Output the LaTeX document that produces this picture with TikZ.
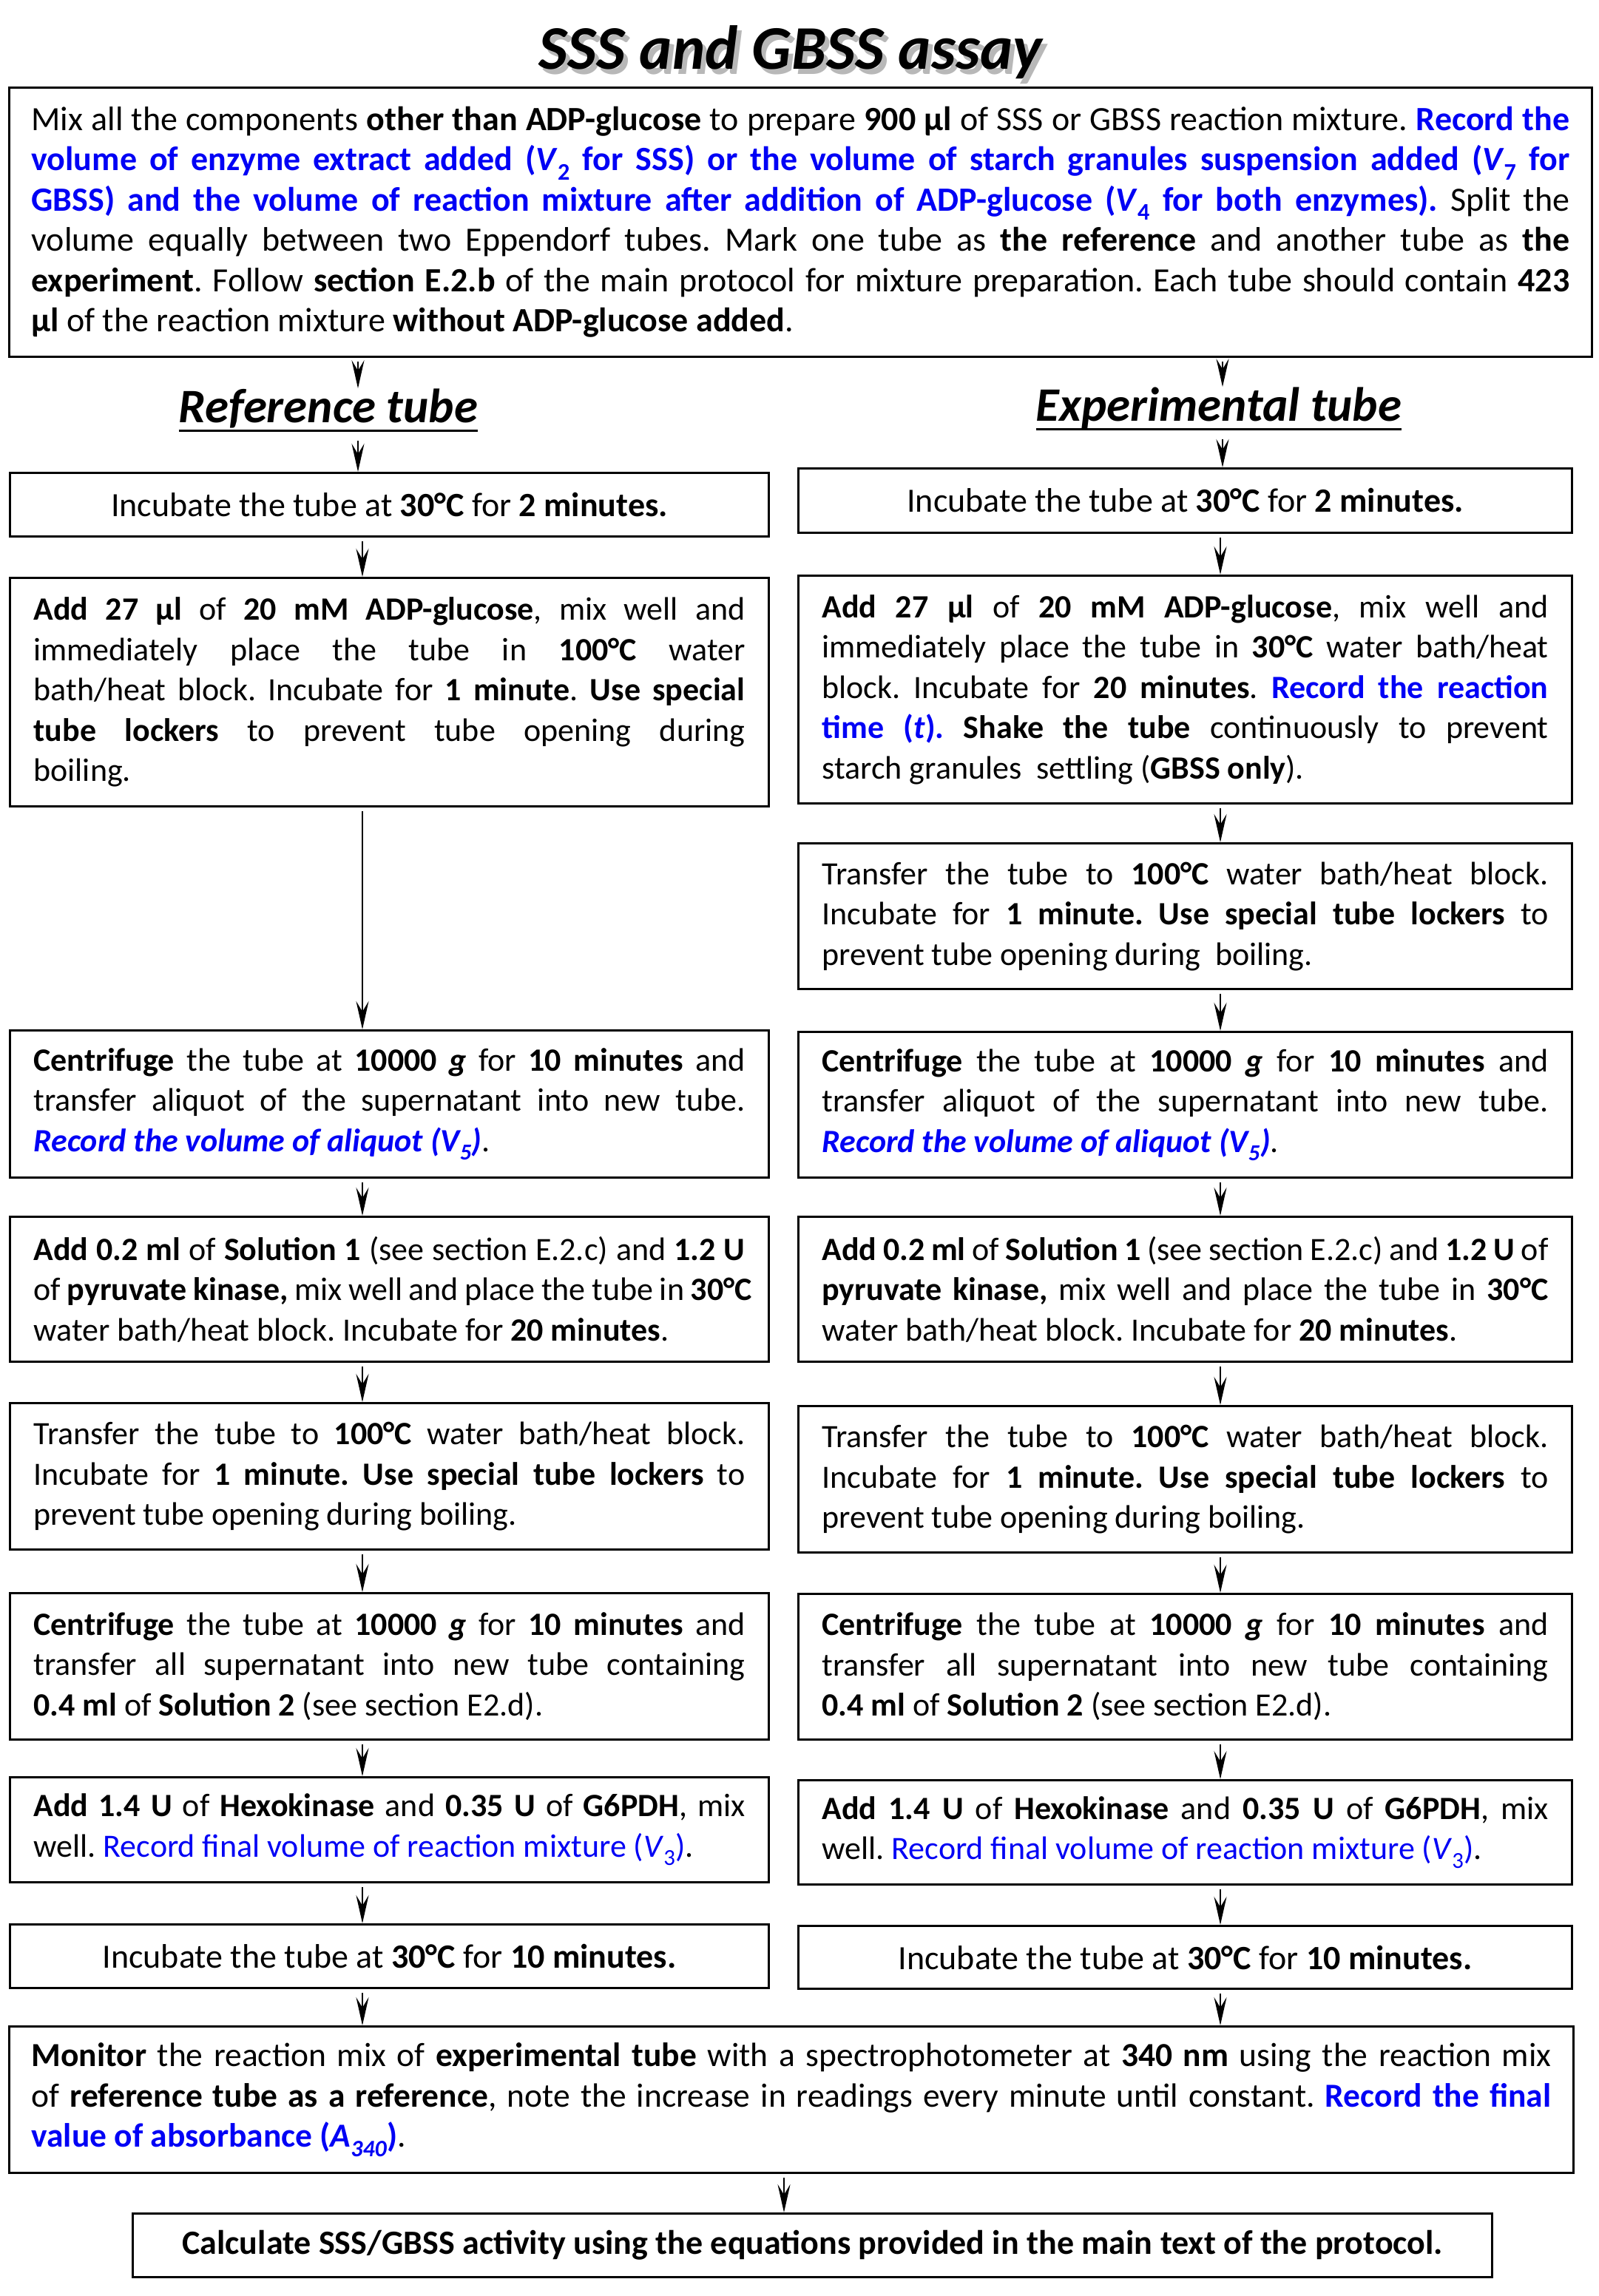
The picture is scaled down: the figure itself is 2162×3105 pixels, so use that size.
\documentclass[tikz,border=0pt]{standalone}
\usepackage{fontspec}
\setmainfont{Carlito}
\usetikzlibrary{arrows.meta}
\definecolor{recblue}{RGB}{0,0,245}
\frenchspacing
\newcommand{\sk}{\spaceskip=.226em plus .4em minus .03em\xspaceskip=\spaceskip}
\newcommand{\jl}[1]{\hbox to\hsize{\sk #1}}
\newcommand{\el}[1]{\hbox{\sk #1}}
\newcommand{\B}[1]{\textbf{#1}}
\newcommand{\rb}[1]{\textcolor{recblue}{\textbf{#1}}}
\newcommand{\rn}[1]{\textcolor{recblue}{#1}}
\newcommand{\shadowed}[1]{\makebox[0pt][l]{\hspace{6pt}\raisebox{-7pt}{\color{black!28}#1}}#1}
\tikzset{
  box/.style={draw, line width=3pt, inner ysep=0pt, inner xsep=32pt,
    font=\fontsize{44}{54.5}\selectfont, anchor=north west},
  lbox/.style={box, minimum width=1026pt, text width=962pt},
  rbox/.style={box, minimum width=1046pt, text width=982pt},
  cbox/.style={draw, line width=3pt, inner sep=0pt, anchor=north west,
    font=\fontsize{46}{54.5}\selectfont},
  arr/.style={-{Stealth[length=38pt,width=17pt,inset=14pt]}, line width=2.5pt, shorten <=5pt},
  maintitle/.style={font=\fontsize{84}{90}\selectfont\bfseries\itshape, anchor=base, inner sep=0pt},
  coltitle/.style={font=\fontsize{65}{70}\selectfont\bfseries\itshape, anchor=base, inner sep=0pt}
}
\begin{document}
\begin{tikzpicture}[x=1pt,y=-1pt]
\useasboundingbox[fill=white] (0,0) rectangle (2162,3105);
% title
\node[maintitle] (title) at (1069,93) {\shadowed{SSS and GBSS assay}};
% top box
\node[box, font=\fontsize{46}{54.5}\selectfont, minimum width=2140pt, text width=2080pt, inner xsep=30pt, minimum height=364pt] (top) at (11,117) {%
\jl{Mix all the components \B{other than ADP-glucose} to prepare \B{900 µl} of SSS or GBSS reaction mixture. \rb{Record the}}
\jl{\rb{volume of enzyme extract added (\textit{V}\textsubscript{2} for SSS) or the volume of starch granules suspension added (\textit{V}\textsubscript{7} for}}
\jl{\rb{GBSS) and the volume of reaction mixture after addition of ADP-glucose (\textit{V}\textsubscript{4} for both enzymes).} Split the}
\jl{volume equally between two Eppendorf tubes. Mark one tube as \B{the reference} and another tube as \B{the}}
\jl{\B{experiment}. Follow \B{section E.2.b} of the main protocol for mixture preparation. Each tube should contain \B{423}}
\el{\B{µl} of the reaction mixture \B{without ADP-glucose added}.}};
% column titles
\node[coltitle] (reft) at (444,571) {Reference tube};
\draw[line width=3pt] ([yshift=-11pt]reft.base west) -- ([yshift=-11pt]reft.base east);
\node[coltitle] (expt) at (1648,569) {Experimental tube};
\draw[line width=3pt] ([yshift=-11pt]expt.base west) -- ([yshift=-11pt]expt.base east);
% left column
\node[cbox, minimum width=1026pt, minimum height=86pt] (L1) at (12,638) {\sk Incubate the tube at \B{30°C} for \B{2 minutes.}};
\node[lbox, minimum height=309pt] (L2) at (12,780) {%
\jl{\B{Add 27 µl} of \B{20 mM ADP-glucose}, mix well and}
\jl{immediately place the tube in \B{100°C} water}
\jl{bath/heat block. Incubate for \B{1 minute}. \B{Use special}}
\jl{\B{tube lockers} to prevent tube opening during}
\el{boiling.}};
\node[lbox, minimum height=199pt] (L3) at (12,1392) {%
\jl{\B{Centrifuge} the tube at \B{10000 \textit{g}} for \B{10 minutes} and}
\jl{transfer aliquot of the supernatant into new tube.}
\el{\rb{\textit{Record the volume of aliquot (V\textsubscript{5})}}.}};
\node[lbox, minimum height=196pt] (L4) at (12,1644) {%
\jl{\B{Add 0.2 ml} of \B{Solution 1} (see section E.2.c) and \B{1.2 U}}
\jl{of \B{pyruvate kinase,} mix well and place the tube in \B{30°C}}
\el{water bath/heat block. Incubate for \B{20 minutes}.}};
\node[lbox, minimum height=198pt] (L5) at (12,1896) {%
\jl{Transfer the tube to \B{100°C} water bath/heat block.}
\jl{Incubate for \B{1 minute. Use special tube lockers} to}
\el{prevent tube opening during boiling.}};
\node[lbox, minimum height=198pt] (L6) at (12,2153) {%
\jl{\B{Centrifuge} the tube at \B{10000 \textit{g}} for \B{10 minutes} and}
\jl{transfer all supernatant into new tube containing}
\el{\B{0.4 ml} of \B{Solution 2} (see section E2.d).}};
\node[lbox, minimum height=142pt] (L7) at (12,2402) {%
\jl{\B{Add 1.4 U} of \B{Hexokinase} and \B{0.35 U} of \B{G6PDH}, mix}
\el{well. \rn{Record final volume of reaction mixture (\textit{V}\textsubscript{3})}.}};
\node[cbox, minimum width=1026pt, minimum height=86pt] (L8) at (12,2601) {\sk Incubate the tube at \B{30°C} for \B{10 minutes.}};
% right column
\node[cbox, minimum width=1046pt, minimum height=87pt] (R1) at (1078,632) {\sk Incubate the tube at \B{30°C} for \B{2 minutes.}};
\node[rbox, minimum height=308pt] (R2) at (1078,777) {%
\jl{\B{Add 27 µl} of \B{20 mM ADP-glucose}, mix well and}
\jl{immediately place the tube in \B{30°C} water bath/heat}
\jl{block. Incubate for \B{20 minutes}. \rb{Record the reaction}}
\jl{\rb{time (\textit{t}).} \B{Shake the tube} continuously to prevent}
\el{starch granules \ settling (\B{GBSS only}).}};
\node[rbox, minimum height=197pt] (R2b) at (1078,1139) {%
\jl{Transfer the tube to \B{100°C} water bath/heat block.}
\jl{Incubate for \B{1 minute. Use special tube lockers} to}
\el{prevent tube opening during \ boiling.}};
\node[rbox, minimum height=197pt] (R3) at (1078,1394) {%
\jl{\B{Centrifuge} the tube at \B{10000 \textit{g}} for \B{10 minutes} and}
\jl{transfer aliquot of the supernatant into new tube.}
\el{\rb{\textit{Record the volume of aliquot (V\textsubscript{5})}}.}};
\node[rbox, minimum height=196pt] (R4) at (1078,1644) {%
\jl{\B{Add 0.2 ml} of \B{Solution 1} (see section E.2.c) and \B{1.2 U} of}
\jl{\B{pyruvate kinase,} mix well and place the tube in \B{30°C}}
\el{water bath/heat block. Incubate for \B{20 minutes}.}};
\node[rbox, minimum height=198pt] (R5) at (1078,1900) {%
\jl{Transfer the tube to \B{100°C} water bath/heat block.}
\jl{Incubate for \B{1 minute. Use special tube lockers} to}
\el{prevent tube opening during boiling.}};
\node[rbox, minimum height=197pt] (R6) at (1078,2154) {%
\jl{\B{Centrifuge} the tube at \B{10000 \textit{g}} for \B{10 minutes} and}
\jl{transfer all supernatant into new tube containing}
\el{\B{0.4 ml} of \B{Solution 2} (see section E2.d).}};
\node[rbox, minimum height=141pt] (R7) at (1078,2406) {%
\jl{\B{Add 1.4 U} of \B{Hexokinase} and \B{0.35 U} of \B{G6PDH}, mix}
\el{well. \rn{Record final volume of reaction mixture (\textit{V}\textsubscript{3})}.}};
\node[cbox, minimum width=1046pt, minimum height=85pt] (R8) at (1078,2603) {\sk Incubate the tube at \B{30°C} for \B{10 minutes.}};
% bottom
\node[box, font=\fontsize{45.5}{54.5}\selectfont, minimum width=2115pt, text width=2055pt, inner xsep=30pt, minimum height=198pt] (mon) at (11,2739) {%
\jl{\B{Monitor} the reaction mix of \B{experimental tube} with a spectrophotometer at \B{340 nm} using the reaction mix}
\jl{of \B{reference tube as a reference}, note the increase in readings every minute until constant. \rb{Record the final}}
\el{\rb{value of absorbance (\textit{A\textsubscript{340}})}.}};
\node[cbox, minimum width=1838pt, minimum height=86pt] (calc) at (178,2992) {\sk\B{Calculate SSS/GBSS activity using the equations provided in the main text of the protocol.}};
% arrow columns
\coordinate (lxa) at (484,0);
\coordinate (rxa) at (1653,0);
\coordinate (lx) at (490,0);
\coordinate (rx) at (1650,0);
\coordinate (mx) at (1060,0);
\draw[arr] (top.south -| lxa) -- (reft.north -| lxa);
\draw[arr] ([yshift=-20pt]reft.base -| lxa) -- (L1.north -| lxa);
\draw[arr] (top.south -| rxa) -- (expt.north -| rxa);
\draw[arr] ([yshift=-20pt]expt.base -| rxa) -- (R1.north -| rxa);
\foreach \a/\b in {L1/L2,L2/L3,L3/L4,L4/L5,L5/L6,L6/L7,L7/L8,L8/mon}
  \draw[arr] (\a.south -| lx) -- (\b.north -| lx);
\foreach \a/\b in {R1/R2,R2/R2b,R2b/R3,R3/R4,R4/R5,R5/R6,R6/R7,R7/R8,R8/mon}
  \draw[arr] (\a.south -| rx) -- (\b.north -| rx);
\draw[arr] (mon.south -| mx) -- (calc.north -| mx);
\end{tikzpicture}
\end{document}
